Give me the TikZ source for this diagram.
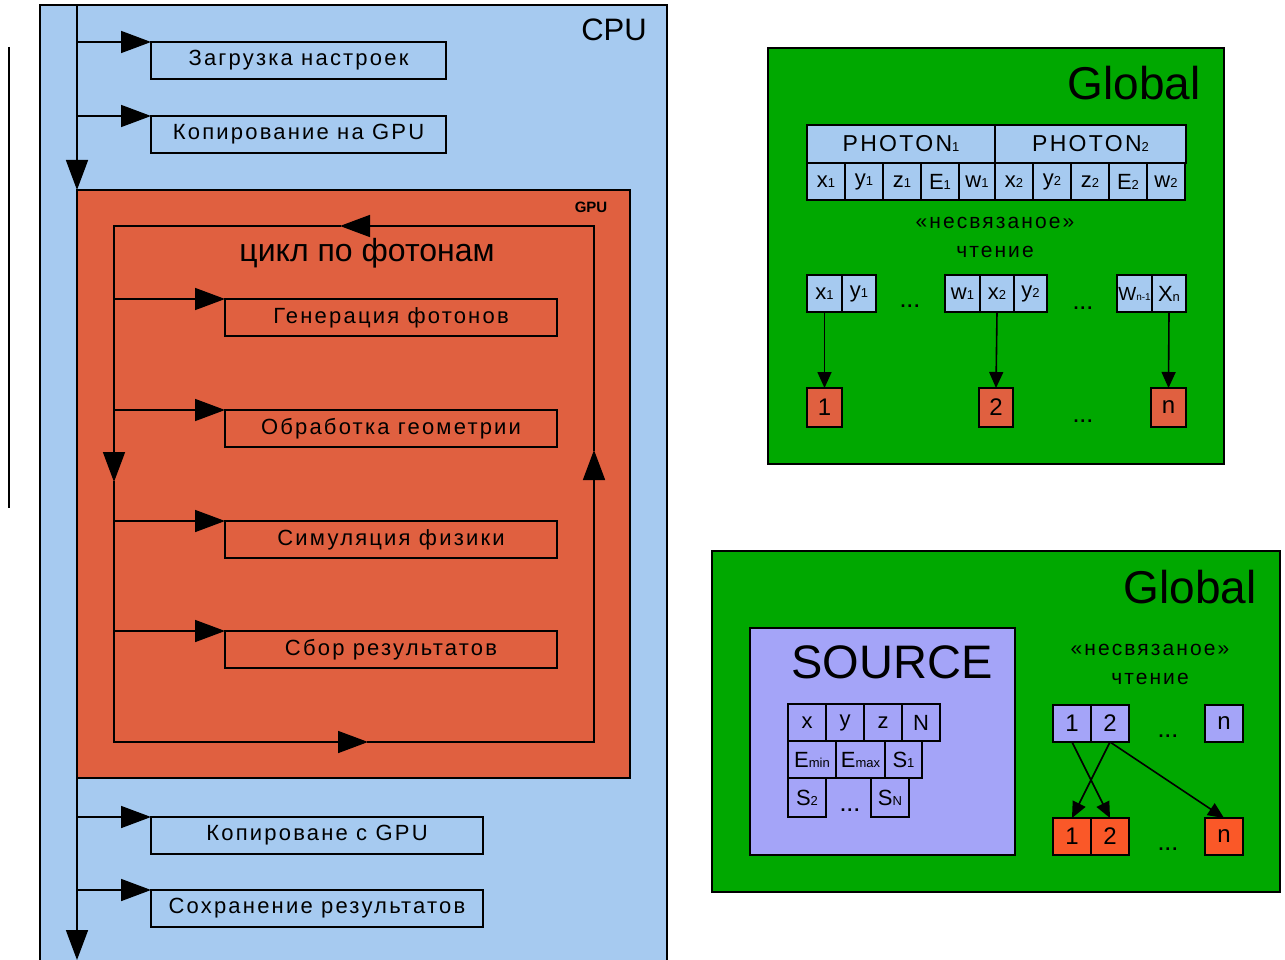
\documentclass[tikz,border=0pt]{standalone}
\usepackage{fontspec}
\setmainfont{Liberation Sans}
\newfontfamily\spaced[LetterSpace=10]{Liberation Sans}
\usetikzlibrary{arrows.meta}
\definecolor{cpublue}{RGB}{166,202,240}
\definecolor{gpuorange}{RGB}{224,96,64}
\definecolor{glgreen}{RGB}{0,168,0}
\definecolor{srclav}{RGB}{164,164,248}
\definecolor{brightorange}{RGB}{250,88,40}
\newcommand\lowsub[1]{{\fontsize{13}{13}\selectfont #1}}
\newcommand\tinysub[1]{{\fontsize{10}{10}\selectfont #1}}
\begin{document}
\begin{tikzpicture}[x=1pt,y=-1pt,
  every node/.style={inner sep=0pt, outer sep=0pt},
  panel/.style={draw, line width=1.8pt, anchor=north west},
  flowbox/.style={draw, line width=1.6pt, anchor=north west, minimum height=37pt,
     font=\fontsize{22}{24}\selectfont\spaced},
  cell/.style={draw, line width=1.6pt, anchor=north west, fill=cpublue,
     font=\fontsize{22}{22}\selectfont},
  ocell/.style={cell, fill=gpuorange},
  lcell/.style={cell, fill=srclav},
  bcell/.style={cell, fill=brightorange},
  lbl/.style={font=\fontsize{21}{22}\selectfont\spaced},
  dots/.style={font=\fontsize{18}{18}\selectfont\spaced\bfseries},
  line/.style={line width=1.6pt, line cap=rect},
  flow/.style={line width=1.6pt, -{Triangle[length=30pt,width=22pt]}},
  sflow/.style={line width=1.6pt, -{Triangle[length=16pt,width=14pt]}},
]
\clip (0,0) rectangle (1285,960);
\fill[white] (0,0) rectangle (1285,960);

% left black bar
\draw[line width=2pt] (9,47) -- (9,508);

% CPU
\node[panel, fill=cpublue, minimum width=627pt, minimum height=990pt] (cpu) at (40,5) {};
\node[font=\fontsize{31}{31}\selectfont] (cpulbl) at (614,30) {CPU};

\coordinate (mtop) at (77,5);
\coordinate (mbot) at (77,960);

\node[flowbox, minimum width=295pt] (b1) at (151,42) {Загрузка настроек};
\node[flowbox, minimum width=295pt] (b2) at (151,116) {Копирование на GPU};

% GPU
\node[panel, fill=gpuorange, minimum width=553pt, minimum height=588pt] (gpu) at (77,190) {};
\node[font=\fontsize{15}{15}\selectfont\bfseries] (gpulbl) at (591,207) {GPU};

\node[flowbox, minimum width=332pt] (b5) at (151,817) {Копироване с GPU};
\node[flowbox, minimum width=332pt] (b6) at (151,890) {Сохранение результатов};

\draw[flow] (mtop) -- (gpu.north west);
\draw[flow] (gpu.south west) -- (mbot);
\draw[flow] (b1.north west -| mtop) -- (b1.north west);
\draw[flow] (b2.north west -| mtop) -- (b2.north west);
\draw[flow] (b5.north west -| mtop) -- (b5.north west);
\draw[flow] (b6.north west -| mtop) -- (b6.north west);

% inner loop
\coordinate (l1) at (114,226);
\coordinate (l2) at (594,226);
\coordinate (l3) at (594,742);
\coordinate (l4) at (114,742);
\coordinate (ta) at (340,226);
\coordinate (tl) at (114,482);
\coordinate (tb) at (368,742);
\coordinate (tr) at (594,450);
\draw[flow] (l2) -- (ta);
\draw[line] (ta) -- (l1);
\draw[flow] (l1) -- (tl);
\draw[line] (tl) -- (l4);
\draw[flow] (l4) -- (tb);
\draw[line] (tb) -- (l3);
\draw[flow] (l3) -- (tr);
\draw[line] (tr) -- (l2);

\node[font=\fontsize{32}{32}\selectfont] (loop) at (367,253) {цикл по фотонам};

\node[flowbox, minimum width=332pt] (g1) at (225,299) {Генерация фотонов};
\node[flowbox, minimum width=332pt] (g2) at (225,410) {Обработка геометрии};
\node[flowbox, minimum width=332pt] (g3) at (225,521) {Симуляция физики};
\node[flowbox, minimum width=332pt] (g4) at (225,631) {Сбор результатов};
\draw[flow] (g1.north west -| l1) -- (g1.north west);
\draw[flow] (g2.north west -| l1) -- (g2.north west);
\draw[flow] (g3.north west -| l1) -- (g3.north west);
\draw[flow] (g4.north west -| l1) -- (g4.north west);

% ---------- top green panel
\node[panel, fill=glgreen, minimum width=456pt, minimum height=416pt] (gl1) at (768,48) {};
\node[font=\fontsize{46}{46}\selectfont] (glob1) at (1134,83) {Global};

\node[cell, minimum width=188pt, minimum height=38pt, font=\fontsize{23}{23}\selectfont\spaced] (ph1) at (807,125) {PHOTON\lowsub{1}};
\node[cell, minimum width=191pt, minimum height=38pt, font=\fontsize{23}{23}\selectfont\spaced] (ph2) at (995,125) {PHOTON\lowsub{2}};
\node[cell, minimum width=38pt, minimum height=37pt] (c1) at (807,163) {x\lowsub{1}};
\node[cell, minimum width=38pt, minimum height=37pt] (c2) at (845,163) {y\lowsub{1}};
\node[cell, minimum width=38pt, minimum height=37pt] (c3) at (883,163) {z\lowsub{1}};
\node[cell, minimum width=38pt, minimum height=37pt] (c4) at (921,163) {E\lowsub{1}};
\node[cell, minimum width=36pt, minimum height=37pt] (c5) at (959,163) {w\lowsub{1}};
\node[cell, minimum width=38pt, minimum height=37pt] (c6) at (995,163) {x\lowsub{2}};
\node[cell, minimum width=38pt, minimum height=37pt] (c7) at (1033,163) {y\lowsub{2}};
\node[cell, minimum width=38pt, minimum height=37pt] (c8) at (1071,163) {z\lowsub{2}};
\node[cell, minimum width=38pt, minimum height=37pt] (c9) at (1109,163) {E\lowsub{2}};
\node[cell, minimum width=38pt, minimum height=37pt] (c10) at (1147,163) {w\lowsub{2}};

\node[lbl] (nc1) at (995,223) {«несвязаное»};
\node[lbl] (rd1) at (995,252) {чтение};

\node[cell, minimum width=35pt, minimum height=37pt] (r1) at (807,275) {x\lowsub{1}};
\node[cell, minimum width=34pt, minimum height=37pt] (r2) at (842,275) {y\lowsub{1}};
\node[cell, minimum width=35pt, minimum height=37pt] (r3) at (945,275) {w\lowsub{1}};
\node[cell, minimum width=34pt, minimum height=37pt] (r4) at (980,275) {x\lowsub{2}};
\node[cell, minimum width=33pt, minimum height=37pt] (r5) at (1014,275) {y\lowsub{2}};
\node[cell, minimum width=35pt, minimum height=37pt, font=\fontsize{19}{19}\selectfont] (r6) at (1117,275) {W\tinysub{n-1}};
\node[cell, minimum width=34pt, minimum height=37pt] (r7) at (1152,275) {X\lowsub{n}};

\node[ocell, minimum width=35pt, minimum height=39pt, font=\fontsize{24}{24}\selectfont] (o1) at (807,388) {1};
\node[ocell, minimum width=34pt, minimum height=39pt, font=\fontsize{24}{24}\selectfont] (o2) at (979,388) {2};
\node[ocell, minimum width=35pt, minimum height=39pt, font=\fontsize{24}{24}\selectfont] (on) at (1151,388) {n};

\node[dots] (dd1) at (910,306) {...};
\node[dots] (dd2) at (1083,308) {...};
\node[dots] (dd3) at (1083,421) {...};

\draw[sflow] (r1.south) -- (o1.north);
\draw[sflow] (r4.south) -- (o2.north);
\draw[sflow] (r7.south) -- (on.north);

% ---------- bottom green panel
\node[panel, fill=glgreen, minimum width=568pt, minimum height=341pt] (gl2) at (712,551) {};
\node[font=\fontsize{46}{46}\selectfont] (glob2) at (1190,587) {Global};

\node[panel, fill=srclav, minimum width=265pt, minimum height=227pt] (src) at (750,628) {};
\node[font=\fontsize{47}{47}\selectfont] (srclbl) at (892,662) {SOURCE};

\node[lcell, minimum width=38pt, minimum height=37pt] (sx) at (788,704) {x};
\node[lcell, minimum width=38pt, minimum height=37pt] (sy) at (826,704) {y};
\node[lcell, minimum width=38pt, minimum height=37pt] (sz) at (864,704) {z};
\node[lcell, minimum width=38pt, minimum height=37pt] (sn) at (902,704) {N};
\node[lcell, minimum width=48pt, minimum height=37pt] (semin) at (788,741) {E\lowsub{min}};
\node[lcell, minimum width=49pt, minimum height=37pt] (semax) at (836,741) {E\lowsub{max}};
\node[lcell, minimum width=37pt, minimum height=37pt] (ss1) at (885,741) {S\lowsub{1}};
\node[lcell, minimum width=38pt, minimum height=39pt] (ss2) at (788,778) {S\lowsub{2}};
\node[lcell, minimum width=38pt, minimum height=39pt] (ssn) at (871,778) {S\lowsub{N}};
\node[dots] (sdots) at (850,810) {...};

\node[lbl] (nc2) at (1150,650) {«несвязаное»};
\node[lbl] (rd2) at (1150,679) {чтение};

\node[lcell, minimum width=38pt, minimum height=37pt, font=\fontsize{24}{24}\selectfont] (t1) at (1053,705) {1};
\node[lcell, minimum width=38pt, minimum height=37pt, font=\fontsize{24}{24}\selectfont] (t2) at (1091,705) {2};
\node[lcell, minimum width=38pt, minimum height=37pt, font=\fontsize{24}{24}\selectfont] (tn) at (1205,705) {n};
\node[bcell, minimum width=38pt, minimum height=37pt, font=\fontsize{24}{24}\selectfont] (u1) at (1053,818) {1};
\node[bcell, minimum width=38pt, minimum height=37pt, font=\fontsize{24}{24}\selectfont] (u2) at (1091,818) {2};
\node[bcell, minimum width=38pt, minimum height=37pt, font=\fontsize{24}{24}\selectfont] (un) at (1205,818) {n};
\node[dots] (td) at (1168,736) {...};
\node[dots] (ud) at (1168,849) {...};

\draw[sflow] (t1.south) -- (u2.north);
\draw[sflow] (t2.south) -- (u1.north);
\draw[sflow] (t2.south) -- (un.north);
\end{tikzpicture}
\end{document}
